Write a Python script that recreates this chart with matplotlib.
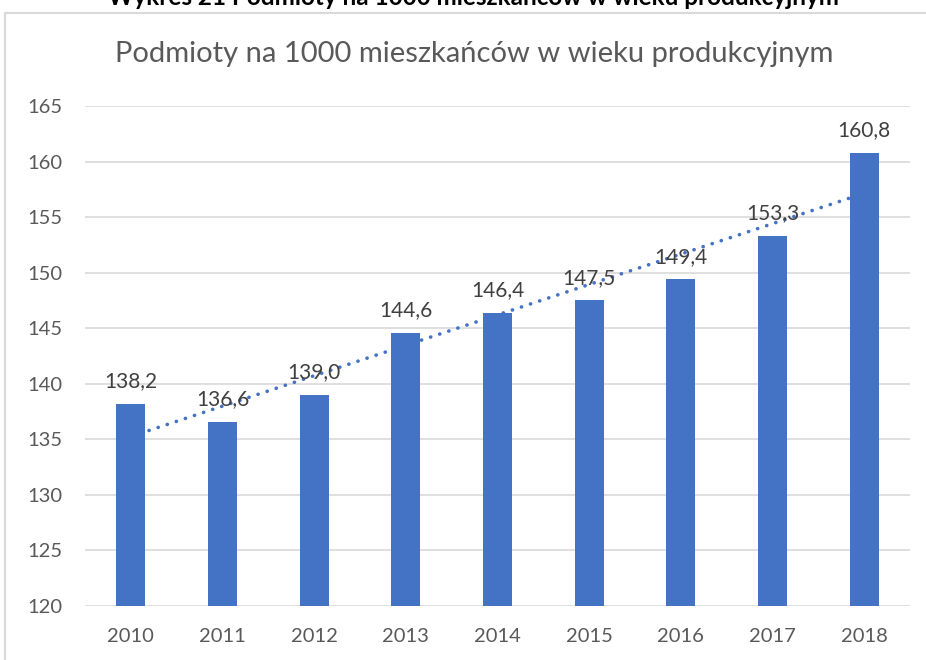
import numpy as np
import matplotlib.pyplot as plt
from matplotlib.patches import Rectangle

years = ['2010', '2011', '2012', '2013', '2014', '2015', '2016', '2017', '2018']
values = [138.2, 136.6, 139.0, 144.6, 146.4, 147.5, 149.4, 153.3, 160.8]
labels = ['138,2', '136,6', '139,0', '144,6', '146,4', '147,5', '149,4', '153,3', '160,8']

plt.rcParams['font.family'] = ['Lato', 'DejaVu Sans']

fig = plt.figure(figsize=(9.26, 6.6), dpi=100)
fig.patch.set_facecolor('white')

# ramka wykresu
fig.patches.append(Rectangle((5 / 926, -0.1), 1.0, (660 - 13) / 660 + 0.1,
                             transform=fig.transFigure, fill=False,
                             edgecolor='#D9D9D9', linewidth=1.5))

# naglowek (uciety u gory, jak w oryginale)
fig.text(474 / 926, 1 - 5 / 660, 'Wykres 21 Podmioty na 1000 mieszkańców w wieku produkcyjnym',
         ha='center', va='baseline', fontsize=17.5, fontweight='bold', color='#000000')

ax = fig.add_axes([85 / 926, 54 / 660, 825 / 926, 500 / 660])
x = np.arange(len(years))
ax.bar(x, values, width=0.32, color='#4472C4', zorder=2)

# linia trendu (liniowa)
a, b = np.polyfit(x, values, 1)
ax.plot(x, a * x + b, linestyle=(0, (0.05, 2.6)), color='#4472C4',
        linewidth=2.6, dash_capstyle='round', zorder=3)

for xi, v, lab in zip(x, values, labels):
    ax.annotate(lab, (xi, v), xytext=(0, 9), textcoords='offset points',
                ha='center', va='bottom', fontsize=15, color='#404040', zorder=4)

ax.set_xlim(-0.5, len(years) - 0.5)
ax.set_ylim(120, 165)
ax.set_yticks(range(120, 166, 5))
ax.set_xticks(x)
ax.set_xticklabels(years)
ax.tick_params(axis='both', length=0, labelsize=14.5, colors='#595959')
ax.tick_params(axis='x', pad=16)
ax.tick_params(axis='y', pad=16)
ax.grid(axis='y', color='#D9D9D9', linewidth=1.2, zorder=0)
for s in ax.spines.values():
    s.set_visible(False)

fig.text(474 / 926, 1 - 62 / 660, 'Podmioty na 1000 mieszkańców w wieku produkcyjnym',
         ha='center', va='baseline', fontsize=21, color='#595959')

fig.savefig('out.png', dpi=100)
